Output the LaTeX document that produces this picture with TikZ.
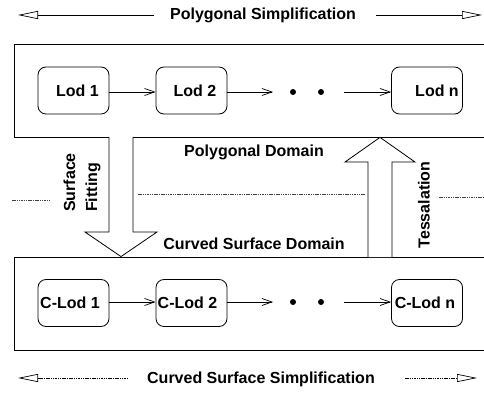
\documentclass[tikz,border=0pt]{standalone}
\usepackage{fontspec}
\setmainfont{Liberation Sans}
\usetikzlibrary{arrows.meta}
\begin{document}
\begin{tikzpicture}[x=1pt,y=-1pt,
  every node/.style={font=\fontsize{16}{22}\selectfont\bfseries, inner sep=0pt},
  lodbox/.style={draw, rounded corners=8pt, minimum width=71pt, minimum height=47pt, line width=0.8pt},
  dombox/.style={draw, minimum width=486pt, minimum height=93pt, line width=0.8pt},
  smallarr/.style={line width=0.7pt, -{Straight Barb[length=10pt,width=7pt]}},
  bigarr/.style={line width=0.7pt, -{Triangle[open,length=20pt,width=8pt]}},
  fineline/.style={line width=0.9pt, black!75, dash pattern=on 1.5pt off 0.8pt},
  blkarr/.style={draw, fill=white, line width=0.8pt, line join=miter},
  dotnode/.style={circle, fill, minimum size=6pt}]
\useasboundingbox (0,0) rectangle (484,395);
% domain boxes
\node[dombox] (top) at (257,90.5) {};
\node[dombox] (bot) at (257,303.5) {};
% top row
\node[lodbox] (l1) at (73.5,90.5) {\hspace*{8pt}Lod 1};
\node[lodbox] (l2) at (191.5,90.5) {\hspace*{7pt}Lod 2};
\node[lodbox] (ln) at (427,90.5) {\hspace*{20pt}Lod n};
\coordinate (l2e) at (273,92);
\coordinate (lns) at (344,92);
\node[dotnode] (d1) at (293,92) {};
\node[dotnode] (d2) at (321,92) {};
\draw[smallarr] (l1.east |- 0,92) -- (l2.west |- 0,92);
\draw[smallarr] (l2.east |- 0,92) -- (l2e);
\draw[smallarr] (lns) -- (ln.west |- 0,92);
% bottom row
\node[lodbox] (c1) at (73.5,303) {C-Lod 1\hspace*{7pt}};
\node[lodbox] (c2) at (191.5,303) {\raisebox{-3pt}{C-Lod 2}\hspace*{8pt}};
\node[lodbox] (cn) at (427,303) {C-Lod n\hspace*{4pt}};
\coordinate (c2e) at (273,302);
\coordinate (cns) at (344,302);
\node[dotnode] (e1) at (293,302) {};
\node[dotnode] (e2) at (321,302) {};
\draw[smallarr] (c1.east |- 0,302) -- (c2.west |- 0,302);
\draw[smallarr] (c2.east |- 0,302) -- (c2e);
\draw[smallarr] (cns) -- (cn.west |- 0,302);
% top simplification arrow
\node (ps) at (263,15) {Polygonal Simplification};
\coordinate (psl) at (154,15);
\coordinate (psr) at (376,15);
\coordinate (pstl) at (18,15);
\coordinate (pstr) at (482,15);
\draw[bigarr] (psl) -- (pstl);
\draw[bigarr] (psr) -- (pstr);
% bottom simplification arrow
\node (cs) at (261,379) {Curved Surface Simplification};
\coordinate (csl) at (128,378);
\coordinate (csr) at (405,378);
\coordinate (cstl) at (18,378);
\coordinate (cstr) at (477,378);
\draw[bigarr, dash pattern=on 1.5pt off 0.8pt] (csl) -- (cstl);
\draw[bigarr, dash pattern=on 1.5pt off 0.8pt] (csr) -- (cstr);
% block arrows
\draw[blkarr] (109,137) -- (109,232) -- (85,232) -- (121,256.6) -- (157,232) -- (133,232) -- (133,137);
\draw[blkarr] (368,257) -- (368,162) -- (345,162) -- (380,137.4) -- (415,162) -- (392,162) -- (392,257);
% middle labels
\node (pd) at (254,152) {Polygonal Domain};
\node (cd) at (254,244) {Curved Surface Domain};
\node[rotate=90, anchor=west, align=left] (sf) at (82,212) {Surface\\Fitting};
\node[rotate=90] (ts) at (424,205) {Tessalation};
% dashed separators
\coordinate (m1) at (138,194); \coordinate (m2) at (365,194);
\coordinate (a1) at (12,200); \coordinate (a2) at (49,200);
\coordinate (b1) at (439,197); \coordinate (b2) at (484,197);
\draw[fineline] (m1) -- (m2);
\draw[fineline] (a1) -- (a2);
\draw[fineline] (b1) -- (b2);
\end{tikzpicture}
\end{document}
